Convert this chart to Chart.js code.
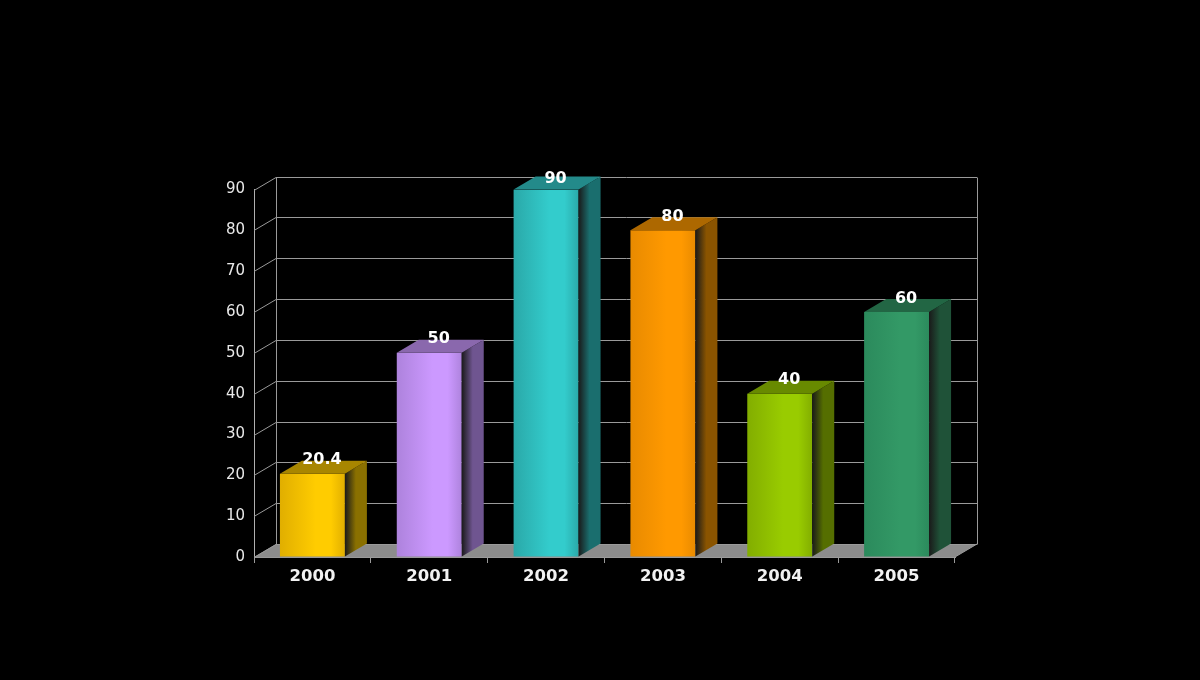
<!DOCTYPE html>
<html>
<head>
<meta charset="utf-8">
<title>3D bars</title>
<script src="https://cdn.jsdelivr.net/npm/chart.js@4"></script>
<style>
  html, body { margin: 0; background: #000; }
  canvas { display: block; }
</style>
</head>
<body>
<canvas id="chart" width="1200" height="680"></canvas>
<script>
const years = ['2000', '2001', '2002', '2003', '2004', '2005'];
const values = [20.4, 50, 90, 80, 40, 60];
const valueLabels = ['20.4', '50', '90', '80', '40', '60'];
const yTicks = [0, 10, 20, 30, 40, 50, 60, 70, 80, 90];
// front edge, centre, top face, side face
const edgeColors = ['#e0ae00', '#ad82dc', '#2aa8a8', '#e88a00', '#82ad00', '#2b8a5c'];
const midColors = ['#ffcc00', '#cc99ff', '#33cccc', '#ff9900', '#99cc00', '#339966'];
const topColors = ['#a88600', '#8a68ad', '#238a8a', '#ad6800', '#688a00', '#226644'];
const sideColors = ['#8a7000', '#6f5590', '#1a6e6e', '#8a5400', '#556e00', '#1f5238'];

const gridColor = '#9a9a9a';
const depthX = 22, depthY = 13;

function polygon(ctx, pts, fill) {
  ctx.beginPath();
  pts.forEach((p, i) => i ? ctx.lineTo(p[0], p[1]) : ctx.moveTo(p[0], p[1]));
  ctx.closePath();
  ctx.fillStyle = fill;
  ctx.fill();
}

// floor, back wall and side wall
const wallPlugin = {
  id: 'walls',
  beforeDatasetsDraw(chart) {
    const { ctx, chartArea: a, scales: { y } } = chart;
    ctx.save();
    polygon(ctx, [[a.left, a.bottom], [a.left + depthX, a.bottom - depthY], [a.right + depthX, a.bottom - depthY], [a.right, a.bottom]], '#8c8c8c');
    ctx.strokeStyle = gridColor;
    ctx.lineWidth = 1;
    ctx.beginPath();
    yTicks.forEach(v => {
      const py = Math.round(y.getPixelForValue(v)) + 0.5;
      ctx.moveTo(a.left, py);
      ctx.lineTo(a.left + depthX, py - depthY);
      ctx.lineTo(a.right + depthX, py - depthY);
    });
    const backTop = Math.round(y.getPixelForValue(90)) + 0.5 - depthY;
    const backBottom = Math.round(y.getPixelForValue(0)) + 0.5 - depthY;
    ctx.moveTo(a.left + depthX + 0.5, backTop);
    ctx.lineTo(a.left + depthX + 0.5, backBottom);
    ctx.moveTo(a.right + depthX + 0.5, backTop);
    ctx.lineTo(a.right + depthX + 0.5, backBottom);
    ctx.moveTo(a.right, a.bottom);
    ctx.lineTo(a.right + depthX, a.bottom - depthY);
    ctx.stroke();
    ctx.restore();
  }
};

// side and top faces of each bar, then the value on top
const depthPlugin = {
  id: 'depth',
  afterDatasetsDraw(chart) {
    const { ctx } = chart;
    const bars = chart.getDatasetMeta(0).data;
    ctx.save();
    bars.forEach((bar, i) => {
      const l = bar.x - bar.width / 2, r = bar.x + bar.width / 2;
      const t = bar.y, b = bar.base;
      const side = ctx.createLinearGradient(r, 0, r + depthX, 0);
      side.addColorStop(0, '#1a1a1a');
      side.addColorStop(0.5, sideColors[i]);
      side.addColorStop(1, sideColors[i]);
      polygon(ctx, [[r, t], [r + depthX, t - depthY], [r + depthX, b - depthY], [r, b]], side);
      polygon(ctx, [[l, t], [l + depthX, t - depthY], [r + depthX, t - depthY], [r, t]], topColors[i]);
    });
    ctx.fillStyle = '#fff';
    ctx.font = 'bold 16px "DejaVu Sans"';
    ctx.textAlign = 'center';
    ctx.textBaseline = 'middle';
    bars.forEach((bar, i) => {
      ctx.fillText(valueLabels[i], bar.x + 9.5, Math.max(bar.y - 13.5, 179));
    });
    ctx.restore();
  }
};

new Chart(document.getElementById('chart'), {
  type: 'bar',
  data: {
    labels: years,
    datasets: [{
      data: values,
      barPercentage: 0.556,
      categoryPercentage: 1,
      backgroundColor(c) {
        const i = c.dataIndex;
        const cx = c.chart.scales.x ? c.chart.scales.x.getPixelForValue(i) : NaN;
        if (!Number.isFinite(cx)) return midColors[i] || midColors[0];
        const g = c.chart.ctx.createLinearGradient(cx - 33, 0, cx + 33, 0);
        g.addColorStop(0, edgeColors[i]);
        g.addColorStop(0.55, midColors[i]);
        g.addColorStop(0.78, midColors[i]);
        g.addColorStop(1, edgeColors[i]);
        return g;
      }
    }]
  },
  options: {
    responsive: false,
    animation: false,
    layout: { padding: { left: 204, right: 245, top: 189.5, bottom: 63 } },
    plugins: { legend: { display: false }, tooltip: { enabled: false } },
    scales: {
      x: {
        grid: { offset: true, drawOnChartArea: false, drawTicks: true, tickLength: 6, tickColor: gridColor },
        border: { color: gridColor },
        ticks: {
          color: '#f2f2f2', padding: 4, autoSkip: false, maxRotation: 0,
          font: { family: '"DejaVu Sans"', size: 16.5, weight: 'bold' }
        },
        afterFit(s) { s.height = 60; s.paddingLeft = 0; s.paddingRight = 0; }
      },
      y: {
        min: 0,
        max: 90,
        grid: { drawOnChartArea: false, drawTicks: false },
        border: { color: '#b0b0b0' },
        ticks: {
          stepSize: 10, color: '#e8e8e8', padding: 9, labelOffset: 0,
          font: { family: '"DejaVu Sans"', size: 15 }
        },
        afterFit(s) { s.width = 50; s.paddingTop = 0; s.paddingBottom = 0; }
      }
    }
  },
  plugins: [wallPlugin, depthPlugin]
});
</script>
</body>
</html>
